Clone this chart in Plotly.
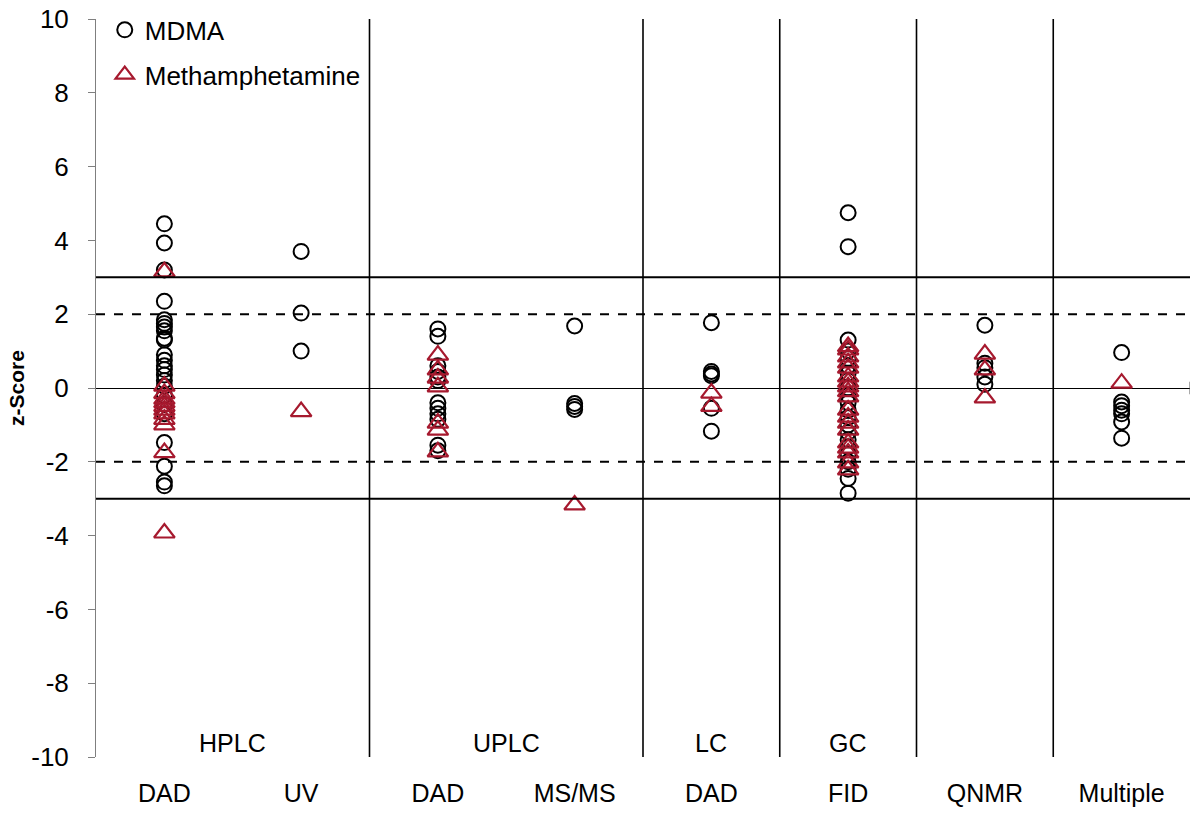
import plotly.graph_objects as go

# category positions (column centres on a 0..8 numeric axis)
columns = ["DAD", "UV", "DAD", "MS/MS", "DAD", "FID", "QNMR", "Multiple"]
groups = ["HPLC", "UPLC", "LC", "GC"]
group_centers = [1.0, 3.0, 4.5, 5.5]
separators = [2, 4, 5, 6, 7]
y_ticks = list(range(-10, 11, 2))
y_ticktext = [str(v) for v in y_ticks]

mdma = {
    0: [4.45, 3.93, 3.2, 2.35, 1.85, 1.75, 1.65, 1.55, 1.35, 1.3, 0.9, 0.75, 0.6, 0.5, 0.35,
        0.2, 0.05, -0.2, -0.45, -0.7, -1.48, -2.12, -2.55, -2.65],
    1: [3.7, 2.03, 1.0],
    2: [1.6, 1.4, 0.6, 0.45, 0.3, 0.2, -0.4, -0.55, -0.7, -0.85, -1.55, -1.7],
    3: [1.68, -0.42, -0.5, -0.58],
    4: [1.77, 0.45, 0.38, 0.33, -0.55, -1.17],
    5: [4.75, 3.83, 1.3, 1.0, 0.8, 0.6, 0.4, 0.2, 0.0, -0.2, -0.4, -0.6, -0.8, -1.0, -1.2,
        -1.4, -1.6, -1.8, -2.0, -2.2, -2.45, -2.85],
    6: [1.7, 0.67, 0.55, 0.3, 0.1],
    7: [0.96, -0.38, -0.48, -0.6, -0.7, -0.92, -1.36],
}
meth = {
    0: [3.15, 0.05, -0.15, -0.3, -0.4, -0.5, -0.6, -0.7, -0.85, -1.0, -1.75, -3.93],
    1: [-0.64],
    2: [0.89, 0.49, 0.27, 0.03, -0.95, -1.14, -1.73],
    3: [-3.17],
    4: [-0.14, -0.5],
    5: [1.12, 1.03, 0.84, 0.68, 0.54, 0.3, 0.16, 0.03, -0.1, -0.24, -0.6, -0.79, -0.95,
        -1.14, -1.49, -1.63, -1.76, -2.03, -2.22],
    6: [0.92, 0.49, -0.27],
    7: [0.13],
}

mx, my = [], []
for k, vals in mdma.items():
    mx += [k + 0.5] * len(vals)
    my += vals
tx, ty = [], []
for k, vals in meth.items():
    tx += [k + 0.5] * len(vals)
    ty += vals

RED = "#A6192E"
fig = go.Figure()
fig.add_trace(go.Scatter(x=mx, y=my, mode="markers", name="MDMA", legendgroup="a",
                         marker=dict(symbol="circle-open", size=15, color="black",
                                     line=dict(width=2, color="black"))))
fig.add_trace(go.Scatter(x=tx, y=ty, mode="markers", name="Methamphetamine", legendgroup="b",
                         marker=dict(symbol="triangle-up-open", size=18, color=RED,
                                     line=dict(width=2.2, color=RED))))

shapes = []
for yv, dash, w in [(3, "solid", 2), (-3, "solid", 2), (2, "dash", 2), (-2, "dash", 2)]:
    shapes.append(dict(type="line", xref="x", yref="y", x0=0, x1=8, y0=yv, y1=yv,
                       line=dict(color="black", width=w, dash=dash)))
for xv in separators:
    shapes.append(dict(type="line", xref="x", yref="paper", x0=xv, x1=xv, y0=0, y1=1,
                       line=dict(color="black", width=1.6)))
# end tick of the category axis
shapes.append(dict(type="line", xref="x", yref="y", x0=8, x1=8, y0=-0.17, y1=0.17,
                   line=dict(color="#555555", width=1)))

annotations = []
for g, c in zip(groups, group_centers):
    annotations.append(dict(x=c, y=0, xref="x", yref="paper", text=g, showarrow=False,
                            yanchor="bottom", yshift=-2, font=dict(size=25, color="black")))

fig.update_layout(
    width=1198, height=814,
    margin=dict(l=96, r=8, t=19, b=57, autoexpand=False),
    paper_bgcolor="white", plot_bgcolor="white",
    font=dict(family="Liberation Sans, Arial, sans-serif", size=25, color="black"),
    showlegend=True,
    legend=dict(x=0.008, y=1.017, xanchor="left", yanchor="top", bgcolor="rgba(0,0,0,0)",
                tracegroupgap=8, font=dict(size=26), itemwidth=30),
    shapes=shapes, annotations=annotations,
    xaxis=dict(range=[0, 8], tickvals=[i + 0.5 for i in range(8)], ticktext=columns,
               showgrid=False, zeroline=False, showline=False, ticks="",
               ticklabelstandoff=19, tickfont=dict(size=25)),
    yaxis=dict(range=[-10, 10], tickvals=y_ticks, ticktext=y_ticktext, showgrid=False,
               zeroline=True, zerolinecolor="black", zerolinewidth=1,
               showline=True, linecolor="#7f7f7f", linewidth=1,
               ticks="outside", ticklen=7, tickcolor="#7f7f7f",
               ticklabelstandoff=14, tickfont=dict(size=26),
               title=dict(text="<b>z-Score</b>", font=dict(size=21), standoff=0)),
)

fig.write_html("out.html")
